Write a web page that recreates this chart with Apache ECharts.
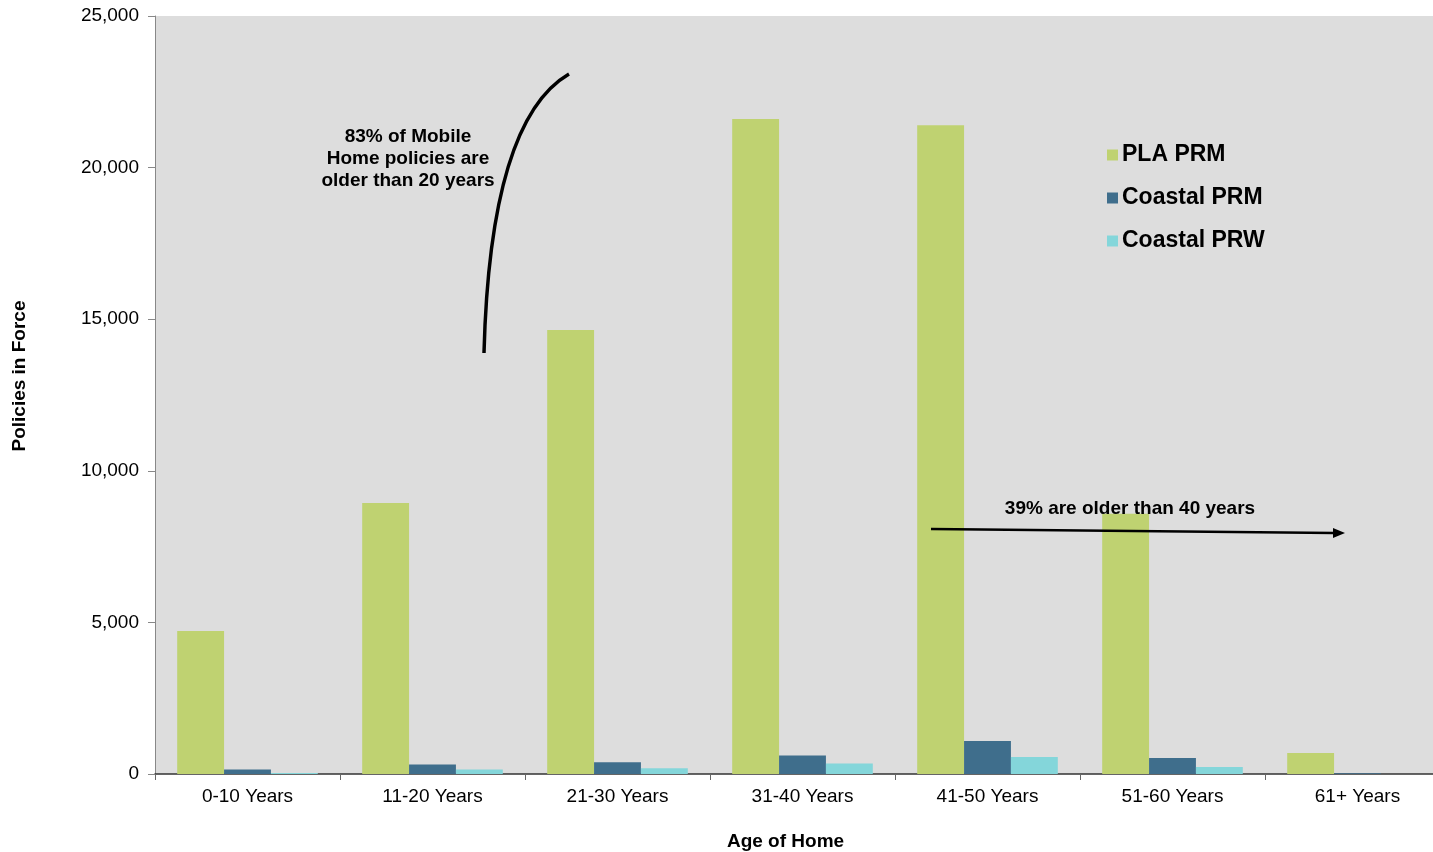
<!DOCTYPE html>
<html>
<head>
<meta charset="utf-8">
<script src="https://cdn.jsdelivr.net/npm/echarts@6/dist/echarts.min.js"></script>
<style>
  html, body { margin: 0; padding: 0; background: #fff; }
  #chart { width: 1433px; height: 852px; }
</style>
</head>
<body>
<div id="chart"></div>
<script>
const categories = ['0-10 Years', '11-20 Years', '21-30 Years', '31-40 Years', '41-50 Years', '51-60 Years', '61+ Years']
const plaPrm = [4720, 8940, 14640, 21600, 21400, 8580, 690]
const coastalPrm = [150, 310, 390, 610, 1090, 530, 25]
const coastalPrw = [35, 145, 190, 345, 560, 230, 0]

const chart = echarts.init(document.getElementById('chart'))

const font = 'Arial, "Liberation Sans", sans-serif'

const option = {
  textStyle: { fontFamily: font },
  grid: {
    left: 155,
    top: 16,
    width: 1295,
    bottom: 78,
    outerBoundsMode: 'none',
    containLabel: false,
    show: true,
    backgroundColor: '#DDDDDD',
    borderWidth: 0
  },
  legend: {
    orient: 'vertical',
    left: 1102,
    top: 138,
    itemWidth: 11,
    itemHeight: 11,
    itemGap: 19,
    icon: 'rect',
    textStyle: { fontSize: 23, lineHeight: 24, fontWeight: 'bold', color: '#000', fontFamily: font, padding: [0, 0, 0, -1] },
    data: ['PLA PRM', 'Coastal PRM', 'Coastal PRW']
  },
  xAxis: {
    type: 'category',
    data: categories,
    name: 'Age of Home',
    nameLocation: 'middle',
    nameGap: 58,
    nameTextStyle: { fontSize: 19, fontWeight: 'bold', color: '#000', padding: [0, 34, 0, 0] },
    axisLine: { lineStyle: { color: '#333', width: 1.5 } },
    axisTick: { show: true, length: 6, lineStyle: { color: '#666' } },
    axisLabel: { fontSize: 19, color: '#000', margin: 13 }
  },
  yAxis: {
    type: 'value',
    min: 0,
    max: 25000,
    interval: 5000,
    name: 'Policies in Force',
    nameLocation: 'middle',
    nameGap: 126,
    nameTextStyle: { fontSize: 19, fontWeight: 'bold', color: '#000', padding: [0, 0, 0, 38] },
    axisLine: { show: true, lineStyle: { color: '#888' } },
    axisTick: { show: true, length: 7, lineStyle: { color: '#888' } },
    axisLabel: { fontSize: 19, color: '#000', margin: 16 },
    splitLine: { show: false }
  },
  series: [
    {
      name: 'PLA PRM',
      type: 'bar',
      data: plaPrm,
      barGap: '0%',
      barCategoryGap: '24%',
      itemStyle: { color: '#BFD271' }
    },
    {
      name: 'Coastal PRM',
      type: 'bar',
      data: coastalPrm,
      itemStyle: { color: '#3F6E8C' }
    },
    {
      name: 'Coastal PRW',
      type: 'bar',
      data: coastalPrw,
      itemStyle: { color: '#84D6DA' }
    }
  ],
  graphic: [
    {
      type: 'text',
      x: 408,
      y: 126,
      z: 100,
      style: {
        text: '83% of Mobile\nHome policies are\nolder than 20 years',
        font: 'bold 19px ' + font,
        fill: '#000',
        align: 'center',
        verticalAlign: 'top',
        lineHeight: 22
      }
    },
    {
      type: 'bezierCurve',
      z: 100,
      shape: { x1: 484, y1: 353, cpx1: 490, cpy1: 120, x2: 569, y2: 74 },
      style: { stroke: '#000', lineWidth: 3.5, fill: null }
    },
    {
      type: 'text',
      x: 1130,
      y: 509,
      z: 100,
      style: {
        text: '39% are older than 40 years',
        font: 'bold 19px ' + font,
        fill: '#000',
        align: 'center',
        verticalAlign: 'middle'
      }
    },
    {
      type: 'line',
      z: 100,
      shape: { x1: 931, y1: 529, x2: 1334, y2: 533 },
      style: { stroke: '#000', lineWidth: 2.5 }
    },
    {
      type: 'polygon',
      z: 100,
      shape: { points: [[1345, 533], [1333, 528], [1333, 538]] },
      style: { fill: '#000' }
    }
  ]
}

chart.setOption(option)
window.addEventListener('resize', function () {
  chart.resize()
})
</script>
</body>
</html>
